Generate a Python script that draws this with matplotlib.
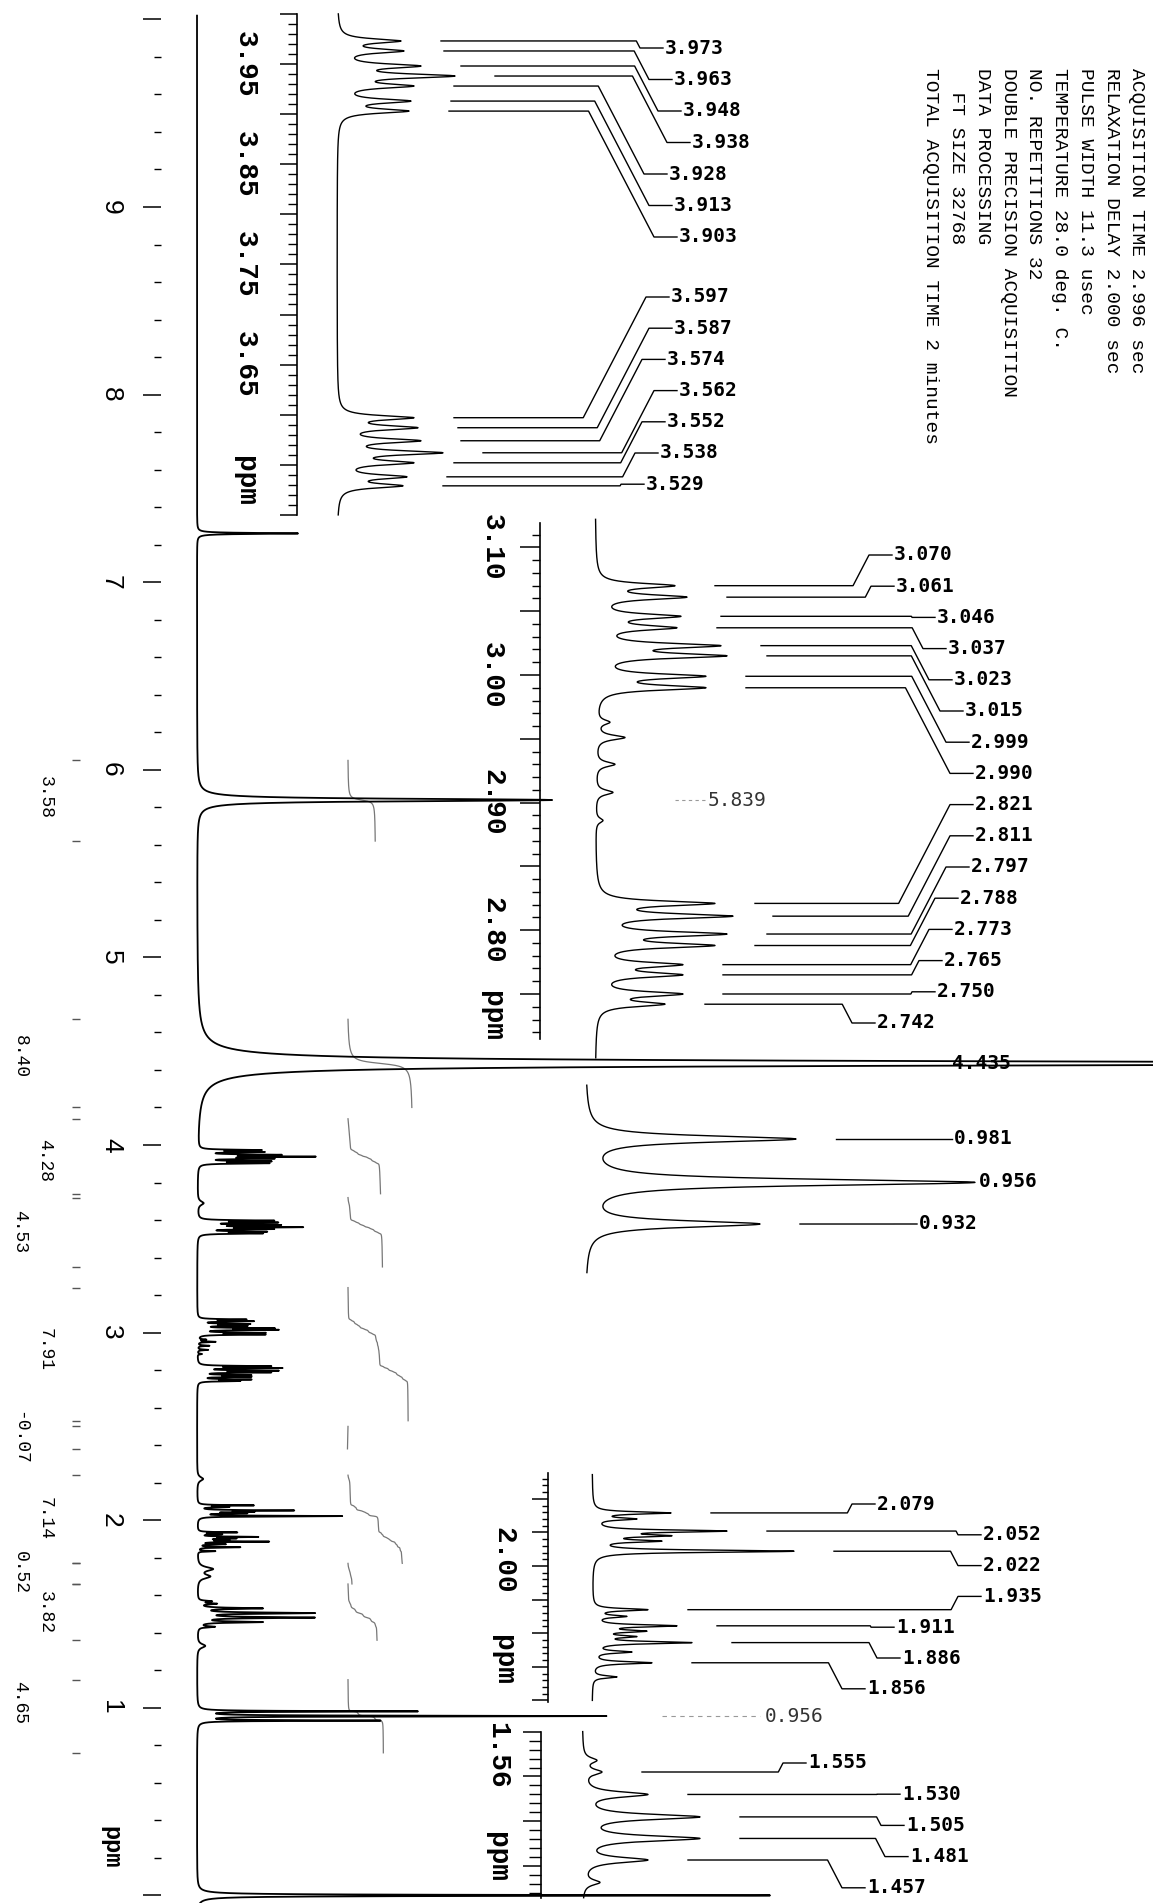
import numpy as np
import matplotlib
matplotlib.use('Agg')
import matplotlib.pyplot as plt

W, H = 1153, 1903

# ---- peak tables: ppm and tip height (px above baseline) ----
grp1a_ppm = [3.973, 3.963, 3.948, 3.938, 3.928, 3.913, 3.903]
grp1a_h = [64, 67, 84, 118, 77, 74, 72]
grp1b_ppm = [3.597, 3.587, 3.574, 3.562, 3.552, 3.538, 3.529]
grp1b_h = [77, 81, 84, 106, 77, 70, 66]

grp2a_ppm = [3.070, 3.061, 3.046, 3.037, 3.023, 3.015, 2.999, 2.990]
grp2a_h = [80, 92, 86, 82, 126, 132, 111, 111]
grp2b_ppm = [2.821, 2.811, 2.797, 2.788, 2.773, 2.765, 2.750, 2.742]
grp2b_h = [120, 138, 132, 120, 88, 88, 88, 70]
grp2s_ppm = [2.963, 2.951, 2.930, 2.908, 2.886]
grp2s_h = [15, 30, 20, 18, 8]

grp3_ppm = [0.981, 0.956, 0.932]
grp3_h = [211, 390, 175]

grp4_ppm = [2.079, 2.052, 2.022, 1.935, 1.911, 1.886, 1.856]
grp4_h = [79, 135, 202, 56, 85, 100, 60]
grp4s_ppm = [2.070, 2.045, 2.037, 1.925, 1.903, 1.895, 1.872, 1.835]
grp4s_h = [45, 80, 70, 35, 55, 45, 40, 25]

grp5_ppm = [1.555, 1.530, 1.505, 1.481, 1.457]
grp5_h = [20, 66, 118, 118, 66]
grp5s_ppm = [1.568, 1.432]
grp5s_h = [15, 18]

# lines that only show in the full spectrum
single_ppm = [7.26, 5.839, 4.435, 0.000]
single_h = [101, 355, 1500, 573]
single_w = [0.003, 0.008, 0.012, 0.003]
bump_ppm = [3.69, 2.22, 1.74, 1.70, 1.33]
bump_h = [6, 6, 15, 12, 8]

# integration regions
integ_from = [6.05, 4.67, 4.14, 3.72, 3.24, 2.50, 2.24, 1.77, 1.66, 1.15]
integ_to = [5.62, 4.20, 3.74, 3.35, 2.53, 2.38, 1.77, 1.66, 1.36, 0.76]
integ_val = [3.58, 8.40, 4.28, 4.53, 7.91, -0.07, 7.14, 0.52, 3.82, 4.65]
integ_lab_ppm = [5.855, 4.47, 3.92, 3.54, 2.91, 2.44, 2.01, 1.72, 1.51, 1.03]

params = ['ACQUISITION TIME 2.996 sec', 'RELAXATION DELAY 2.000 sec',
          'PULSE WIDTH 11.3 usec', 'TEMPERATURE 28.0 deg. C.',
          'NO. REPETITIONS 32', 'DOUBLE PRECISION ACQUISITION',
          'DATA PROCESSING', '  FT SIZE 32768',
          'TOTAL ACQUISITION TIME 2 minutes']

fig = plt.figure(figsize=(W / 100, H / 100), dpi=100)


def lorentz(grid, centers, amps, width):
    grid = np.asarray(grid, dtype=float)
    out = np.zeros_like(grid)
    for c, a in zip(centers, amps):
        out += a / (1.0 + ((grid - c) / width) ** 2)
    return out


def amplitudes(centers, tips, width):
    # line amplitudes whose summed trace hits the read tip heights
    c = np.asarray(centers, dtype=float)
    m = 1.0 / (1.0 + ((c[:, None] - c[None, :]) / width) ** 2)
    return np.clip(np.linalg.solve(m, np.asarray(tips, dtype=float)), 0, None)


def band(y0, y1, ref_ppm, ref_y, scale):
    # full-width axes: x in pixels, y in ppm
    ax = fig.add_axes([0, 1 - y1 / H, 1, (y1 - y0) / H])
    ax.set_xlim(0, W)
    ax.set_ylim(ref_ppm - (y1 - ref_y) / scale, ref_ppm + (ref_y - y0) / scale)
    ax.patch.set_visible(False)
    for s in ax.spines.values():
        s.set_visible(False)
    ax.set_xticks([])
    ax.set_yticks([])
    return ax


def ruler(ax, x, lo, hi, major_len, minor_len, major_step=0.05, minor_step=0.01):
    sp = ax.spines['left']
    sp.set_visible(True)
    sp.set_position(('data', x))
    sp.set_bounds(lo, hi)
    sp.set_linewidth(1.2)
    k0 = int(np.ceil(lo / minor_step - 1e-6))
    k1 = int(np.floor(hi / minor_step + 1e-6))
    minors = [round(k * minor_step, 4) for k in range(k0, k1 + 1)]
    majors = [v for v in minors if abs(v / major_step - round(v / major_step)) < 1e-6]
    ax.set_yticks(majors)
    ax.set_yticks(minors, minor=True)
    ax.tick_params(axis='y', which='major', length=major_len * 0.72, width=1.1,
                   direction='out', labelleft=False)
    ax.tick_params(axis='y', which='minor', length=minor_len * 0.72, width=1.0,
                   direction='out')


def ruler_labels(ax, x, items, size=20):
    for p, s in items:
        ax.text(x, p, s, rotation=-90, ha='center', va='center', fontsize=size,
                family='Liberation Mono', weight='bold')


def inset(y0, y1, ref_ppm, ref_y, scale, base, top, bot, peaks, tips, width,
          marked, lab_x, lab_y):
    ax = band(y0, y1, ref_ppm, ref_y, scale)
    amps = amplitudes(peaks, tips, width)
    g = np.linspace(top, bot, 8000)
    ax.plot(base + lorentz(g, peaks, amps, width), g, color='k', lw=1.0)
    tip_x = base + lorentz(np.array(marked), peaks, amps, width)
    for p, tx, lx, ly in zip(marked, tip_x, lab_x, lab_y):
        yl = ref_ppm - (ly - ref_y) / scale
        x0 = tx + 40
        if x0 < lx - 10:
            xd = lx - 25
            xb = max(min(xd - 0.52 * abs(yl - p) * scale, xd), x0)
            ax.plot([x0, xb, xd, lx - 2], [p, p, yl, yl], color='k', lw=1.0)
        ax.text(lx, yl, f'{p:.3f}', ha='left', va='center', fontsize=14,
                family='DejaVu Sans Mono', weight='bold', zorder=1)
    return ax


# ---------------- full spectrum ----------------
MREF, MY, MS, MBASE = 9.0, 207, 187.6, 197
main = band(0, H, MREF, MY, MS)


def main_ppm(y):
    return MREF - (y - MY) / MS


def group(grid, ppm, tips, width, k):
    return k * lorentz(grid, ppm, amplitudes(ppm, tips, width), width)


grid = np.linspace(10.02, -0.04, 40000)
spec = (group(grid, grp1a_ppm + grp1b_ppm, grp1a_h + grp1b_h, 0.0025, 1.0)
        + group(grid, grp2a_ppm + grp2b_ppm + grp2s_ppm,
                grp2a_h + grp2b_h + grp2s_h, 0.0022, 0.62)
        + group(grid, grp3_ppm, grp3_h, 0.0022, 1.05)
        + group(grid, grp4_ppm + grp4s_ppm, grp4_h + grp4s_h, 0.002, 0.72)
        + group(grid, grp5_ppm + grp5s_ppm, grp5_h + grp5s_h, 0.0035, 1.0)
        + lorentz(grid, bump_ppm, bump_h, 0.012))
for p, h, w in zip(single_ppm, single_h, single_w):
    spec = spec + lorentz(grid, [p], [h], w)
main.plot(MBASE + spec, grid, color='k', lw=1.3, zorder=3)

ruler(main, 161, 0, 10, 18, 7, major_step=1, minor_step=0.2)
main.spines['left'].set_visible(False)
for v in range(1, 10):
    main.text(111, v, str(v), rotation=-90, ha='center', va='center', fontsize=19,
              family='Liberation Sans')
main.text(111, main_ppm(1847), 'ppm', rotation=-90, ha='center', va='center',
          fontsize=17, family='Liberation Mono', weight='bold')

# integrals
for i, (a, b, v, lp) in enumerate(zip(integ_from, integ_to, integ_val, integ_lab_ppm)):
    m = (grid <= a) & (grid >= b)
    cum = np.cumsum(spec[m])
    main.plot(348 + cum / cum[-1] * v * 7.6, grid[m], color='#777', lw=0.9)
    main.hlines([a, b], 72, 80, color='#555', lw=1.0)
    main.text(45 if i % 2 == 0 else 20, lp, f'{v:.2f}', rotation=-90, ha='center',
              va='center', fontsize=13, family='Liberation Mono')

# labels of the big lines in the full spectrum
main.plot([675, 705], [5.839, 5.839], color='#999', lw=0.8, ls=(0, (3, 3)))
main.text(708, 5.839, '5.839', ha='left', va='center', fontsize=14,
          family='DejaVu Sans Mono', color='#333')
main.text(952, 4.435, '4.435', ha='left', va='center', fontsize=14,
          family='DejaVu Sans Mono', weight='bold', zorder=1)
main.plot([662, 760], [0.956, 0.956], color='#999', lw=0.8, ls=(0, (4, 4)))
main.text(765, 0.956, '0.956', ha='left', va='center', fontsize=14,
          family='DejaVu Sans Mono', color='#333')

for i, s in enumerate(params):
    main.text(1137 - 25.8 * i, main_ppm(68), s, rotation=-90, ha='center', va='top',
              fontsize=14, family='Liberation Mono')

# ---------------- expansions ----------------
a1 = inset(0, 540, 3.95, 64, 1002, 337, 4.00, 3.50,
           grp1a_ppm + grp1b_ppm, grp1a_h + grp1b_h, 0.0025,
           grp1a_ppm + grp1b_ppm,
           [665, 674, 683, 692, 669, 674, 679, 671, 674, 667, 679, 667, 660, 646],
           list(48 + 31.5 * np.arange(7)) + list(297 + 31.2 * np.arange(7)))
ruler(a1, 297, 3.50, 4.00, 17, 9)
ruler_labels(a1, 245, [(3.95, '3.95'), (3.85, '3.85'), (3.75, '3.75'),
                       (3.65, '3.65'), (3.534, 'ppm')])

a2 = inset(515, 1060, 3.00, 675, 1276, 595, 3.122, 2.70,
           grp2a_ppm + grp2b_ppm + grp2s_ppm, grp2a_h + grp2b_h + grp2s_h, 0.0022,
           grp2a_ppm + grp2b_ppm,
           [894, 896, 937, 948, 954, 965, 971, 975, 975, 975, 971, 960, 954, 944, 937, 877],
           list(555 + 31.2 * np.arange(16)))
ruler(a2, 540, 2.715, 3.119, 20, 8)
ruler_labels(a2, 492, [(3.10, '3.10'), (3.00, '3.00'), (2.90, '2.90'),
                       (2.80, '2.80'), (2.733, 'ppm')])

a3 = inset(1075, 1290, 0.981, 1139, 1735, 585, 1.012, 0.904,
           grp3_ppm, grp3_h, 0.0022, grp3_ppm, [954, 979, 919], [1139, 1182, 1224])

a4 = inset(1465, 1710, 2.00, 1566, 672, 592, 2.136, 1.80,
           grp4_ppm + grp4s_ppm, grp4_h + grp4s_h, 0.002, grp4_ppm,
           [877, 983, 983, 983, 896, 902, 867],
           list(1504 + 30.8 * np.arange(7)))
ruler(a4, 548, 1.798, 2.138, 16, 6)
ruler_labels(a4, 503, [(2.009, '2.00'), (1.86, 'ppm')])

a5 = inset(1720, H, 1.555, 1772, 898, 582, 1.60, 1.415,
           grp5_ppm + grp5s_ppm, grp5_h + grp5s_h, 0.0035, grp5_ppm,
           [808, 902, 906, 910, 867],
           list(1763 + 31.2 * np.arange(5)))
ruler(a5, 541, 1.415, 1.60, 18, 12)
ruler_labels(a5, 497, [(1.574, '1.56'), (1.460, 'ppm')])

fig.savefig('out.png', dpi=100)
